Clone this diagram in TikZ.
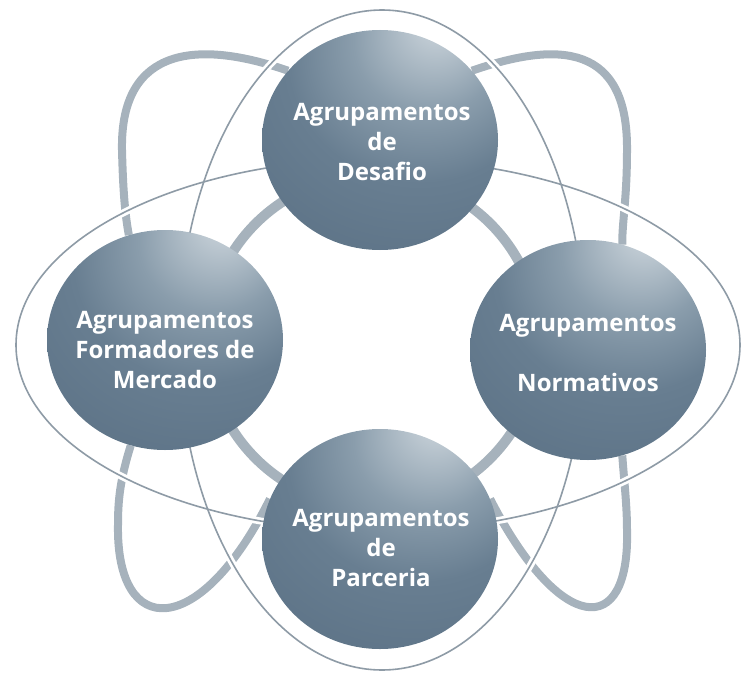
\documentclass[tikz,border=0pt]{standalone}
\usepackage{fontspec}
\setmainfont{Open Sans}
\usetikzlibrary{shapes.geometric,backgrounds}
\definecolor{hl}{HTML}{D2DAE0}
\definecolor{sa}{HTML}{B2BFC9}
\definecolor{sb}{HTML}{8A9DAC}
\definecolor{sc}{HTML}{687E91}
\definecolor{sd}{HTML}{5A7084}
\definecolor{se}{HTML}{485F73}
\definecolor{loopc}{HTML}{A6B2BC}
\definecolor{linec}{HTML}{8E9BA6}
\pgfdeclareradialshading{sphereshade}{\pgfpoint{13bp}{28bp}}{color(0bp)=(hl); color(7bp)=(sa); color(16bp)=(sb); color(28bp)=(sc); color(48bp)=(sd); color(80bp)=(se)}
\tikzset{
  sphere/.style={ellipse, minimum width=236pt, minimum height=220pt, inner sep=0pt, shading=sphereshade},
  lbl/.style={text=white, align=center, font=\fontsize{24}{30}\selectfont\bfseries},
  loopline/.style={draw=loopc, line width=8pt},
  ringline/.style={draw=loopc, line width=10pt},
  halo/.style={draw=white, line width=7pt},
  orbit/.style={draw=linec, line width=1.6pt}
}
\begin{document}
\begin{tikzpicture}[x=1pt,y=-1pt]
\useasboundingbox (0,0) rectangle (741,674);
% spheres
\node[sphere] (top) at (380,140) {};
\node[sphere] (left) at (165,340) {};
\node[sphere] (right) at (588,350) {};
\node[sphere] (bottom) at (380,539) {};
% labels
\node[lbl] (topT) at (382,142) {Agrupamentos\\de\\Desafio};
\node[lbl] (leftT) at (165,350) {Agrupamentos\\Formadores de\\Mercado};
\node[lbl] (rightT) at (588,353) {Agrupamentos\\[30pt]Normativos};
\node[lbl] (bottomT) at (381,548) {Agrupamentos\\de\\Parceria};
\begin{pgfonlayer}{background}
% inner ring
\draw[ringline] (373,341) circle [radius=166];
% loops
\draw[loopline] (top.143) .. controls (200,40) and (120,45) .. (122,150)
   .. controls (123,190) and (125,215) .. (left.109);
\draw[loopline] (top.37) .. controls (560,40) and (628,45) .. (627,150)
   .. controls (627,200) and (622,222) .. (right.72);
\draw[loopline] (left.252) .. controls (120,480) and (118,500) .. (118,525)
   .. controls (116,640) and (200,640) .. (bottom.160);
\draw[loopline] (right.288) .. controls (624,480) and (627,505) .. (627,530)
   .. controls (630,640) and (560,635) .. (bottom.20);
% orbits
\draw[halo] (378,345) ellipse [x radius=362, y radius=186];
\draw[halo] (382,340) ellipse [x radius=203, y radius=330];
\draw[orbit] (378,345) ellipse [x radius=362, y radius=186];
\draw[orbit] (382,340) ellipse [x radius=203, y radius=330];
\end{pgfonlayer}
\end{tikzpicture}
\end{document}
